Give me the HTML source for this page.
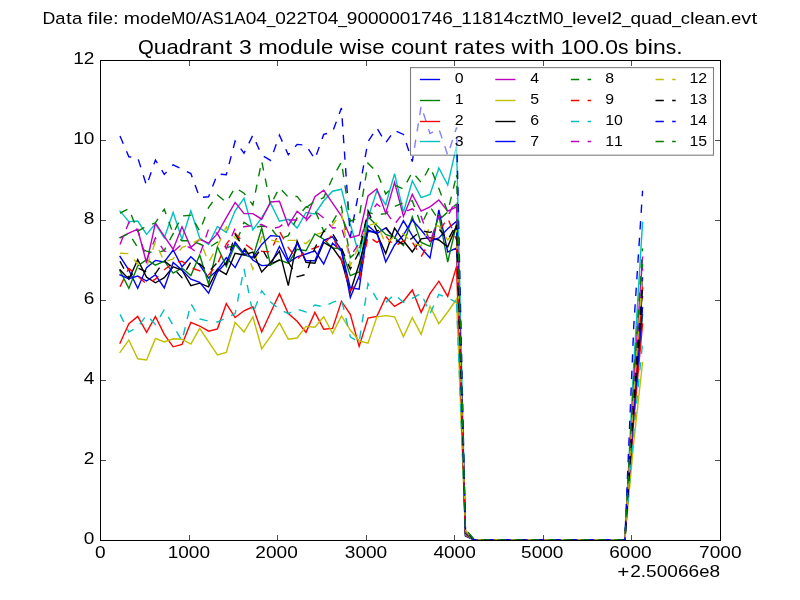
<!DOCTYPE html>
<html><head><meta charset="utf-8"><title>Quadrant 3 module wise count rates</title>
<style>
html,body{margin:0;padding:0;background:#fff;}
body{width:800px;height:600px;overflow:hidden;font-family:"Liberation Sans",sans-serif;}
svg{display:block;font-family:"Liberation Sans",sans-serif;}
svg text{fill:#000;}
</style></head><body>
<svg width="800" height="600" viewBox="0 0 800 600">
<rect width="800" height="600" fill="#ffffff"/>
<defs><filter id="gs" x="0" y="0" width="800" height="600" filterUnits="userSpaceOnUse" color-interpolation-filters="sRGB"><feColorMatrix type="saturate" values="0"/></filter><clipPath id="ax"><rect x="100" y="60" width="620" height="480.9"/></clipPath></defs>
<g clip-path="url(#ax)" fill="none" stroke-width="1.39" stroke-linejoin="miter" stroke-miterlimit="4">
<path d="M120.00,256.40 L128.86,270.00 L137.71,288.40 L146.57,267.60 L155.43,260.40 L164.29,262.00 L173.14,250.00 L182.00,266.80 L190.86,256.80 L199.71,265.00 L208.57,278.00 L217.43,270.00 L226.29,257.60 L235.14,267.60 L244.00,250.00 L252.86,260.00 L261.71,265.60 L270.57,265.00 L279.43,246.40 L288.29,262.40 L297.14,256.80 L306.00,254.00 L314.86,250.80 L323.71,264.00 L332.57,243.20 L341.43,251.20 L350.29,287.60 L359.14,289.20 L368.00,225.60 L376.86,233.60 L385.71,228.00 L394.57,238.00 L403.43,220.80 L412.29,235.60 L421.14,248.00 L430.00,258.00 L438.86,210.00 L447.71,252.00 L456.57,248.00 L465.43,536.00 L474.29,540.00 L483.14,540.00 L492.00,540.00 L500.86,540.00 L509.71,540.00 L518.57,540.00 L527.43,540.00 L536.29,540.00 L545.14,540.00 L554.00,540.00 L562.86,540.00 L571.71,540.00 L580.57,540.00 L589.43,540.00 L598.29,540.00 L607.14,540.00 L616.00,540.00 L624.86,540.00 L633.71,395.90 L642.57,278.00" stroke="#0000ff" stroke-linecap="square"/>
<path d="M120.00,270.80 L128.86,288.40 L137.71,266.00 L146.57,259.60 L155.43,265.20 L164.29,261.20 L173.14,273.20 L182.00,268.00 L190.86,275.60 L199.71,255.00 L208.57,284.00 L217.43,246.80 L226.29,266.40 L235.14,244.40 L244.00,255.00 L252.86,257.60 L261.71,228.00 L270.57,265.00 L279.43,260.00 L288.29,263.20 L297.14,249.20 L306.00,250.80 L314.86,234.00 L323.71,239.20 L332.57,248.00 L341.43,248.80 L350.29,275.60 L359.14,272.00 L368.00,216.80 L376.86,225.60 L385.71,234.40 L394.57,237.60 L403.43,245.60 L412.29,216.80 L421.14,242.40 L430.00,246.40 L438.86,215.00 L447.71,262.00 L456.57,224.00 L465.43,535.52 L474.29,540.00 L483.14,540.00 L492.00,540.00 L500.86,540.00 L509.71,540.00 L518.57,540.00 L527.43,540.00 L536.29,540.00 L545.14,540.00 L554.00,540.00 L562.86,540.00 L571.71,540.00 L580.57,540.00 L589.43,540.00 L598.29,540.00 L607.14,540.00 L616.00,540.00 L624.86,540.00 L633.71,415.92 L642.57,314.40" stroke="#008000" stroke-linecap="square"/>
<path d="M120.00,343.20 L128.86,323.60 L137.71,316.40 L146.57,332.40 L155.43,316.40 L164.29,334.40 L173.14,346.80 L182.00,344.40 L190.86,322.40 L199.71,326.00 L208.57,331.20 L217.43,328.80 L226.29,303.60 L235.14,317.60 L244.00,310.80 L252.86,306.80 L261.71,332.00 L270.57,312.80 L279.43,293.60 L288.29,313.60 L297.14,321.20 L306.00,332.40 L314.86,312.40 L323.71,329.20 L332.57,328.40 L341.43,301.20 L350.29,314.40 L359.14,346.40 L368.00,318.00 L376.86,316.40 L385.71,297.20 L394.57,306.40 L403.43,301.20 L412.29,290.00 L421.14,312.40 L430.00,293.60 L438.86,281.20 L447.71,296.40 L456.57,266.40 L465.43,535.04 L474.29,540.00 L483.14,540.00 L492.00,540.00 L500.86,540.00 L509.71,540.00 L518.57,540.00 L527.43,540.00 L536.29,540.00 L545.14,540.00 L554.00,540.00 L562.86,540.00 L571.71,540.00 L580.57,540.00 L589.43,540.00 L598.29,540.00 L607.14,540.00 L616.00,540.00 L624.86,540.00 L633.71,421.20 L642.57,324.00" stroke="#ff0000" stroke-linecap="square"/>
<path d="M120.00,211.20 L128.86,221.60 L137.71,221.00 L146.57,234.40 L155.43,223.76 L164.29,238.00 L173.14,212.40 L182.00,239.20 L190.86,210.80 L199.71,238.00 L208.57,244.40 L217.43,226.40 L226.29,232.40 L235.14,210.80 L244.00,198.40 L252.86,230.00 L261.71,217.60 L270.57,203.20 L279.43,221.20 L288.29,219.20 L297.14,228.00 L306.00,212.40 L314.86,214.00 L323.71,200.80 L332.57,191.20 L341.43,189.20 L350.29,224.00 L359.14,255.00 L368.00,218.00 L376.86,190.80 L385.71,204.80 L394.57,173.60 L403.43,212.40 L412.29,180.80 L421.14,197.60 L430.00,194.40 L438.86,168.00 L447.71,185.00 L456.57,145.60 L465.43,534.56 L474.29,540.00 L483.14,540.00 L492.00,540.00 L500.86,540.00 L509.71,540.00 L518.57,540.00 L527.43,540.00 L536.29,540.00 L545.14,540.00 L554.00,540.00 L562.86,540.00 L571.71,540.00 L580.57,540.00 L589.43,540.00 L598.29,540.00 L607.14,540.00 L616.00,540.00 L624.86,540.00 L633.71,365.32 L642.57,222.40" stroke="#00bfbf" stroke-linecap="square"/>
<path d="M120.00,237.60 L128.86,233.20 L137.71,229.20 L146.57,263.20 L155.43,223.20 L164.29,236.40 L173.14,249.20 L182.00,226.80 L190.86,247.60 L199.71,239.36 L208.57,243.20 L217.43,233.60 L226.29,217.60 L235.14,202.40 L244.00,213.60 L252.86,213.60 L261.71,219.20 L270.57,202.00 L279.43,201.20 L288.29,225.60 L297.14,211.20 L306.00,218.80 L314.86,196.80 L323.71,190.20 L332.57,203.20 L341.43,216.00 L350.29,237.60 L359.14,235.20 L368.00,196.00 L376.86,188.80 L385.71,213.20 L394.57,182.40 L403.43,216.40 L412.29,194.40 L421.14,211.20 L430.00,206.80 L438.86,200.00 L447.71,211.20 L456.57,206.80 L465.43,534.08 L474.29,540.00 L483.14,540.00 L492.00,540.00 L500.86,540.00 L509.71,540.00 L518.57,540.00 L527.43,540.00 L536.29,540.00 L545.14,540.00 L554.00,540.00 L562.86,540.00 L571.71,540.00 L580.57,540.00 L589.43,540.00 L598.29,540.00 L607.14,540.00 L616.00,540.00 L624.86,540.00 L633.71,384.46 L642.57,257.20" stroke="#bf00bf" stroke-linecap="square"/>
<path d="M120.00,352.40 L128.86,340.00 L137.71,358.80 L146.57,360.00 L155.43,338.40 L164.29,342.00 L173.14,338.80 L182.00,339.20 L190.86,344.00 L199.71,328.40 L208.57,341.60 L217.43,355.00 L226.29,352.40 L235.14,322.40 L244.00,332.00 L252.86,316.80 L261.71,348.80 L270.57,336.40 L279.43,322.80 L288.29,339.20 L297.14,338.00 L306.00,326.40 L314.86,327.20 L323.71,316.80 L332.57,333.60 L341.43,316.00 L350.29,330.00 L359.14,340.80 L368.00,343.20 L376.86,316.80 L385.71,315.60 L394.57,316.80 L403.43,336.80 L412.29,317.60 L421.14,334.40 L430.00,306.40 L438.86,323.60 L447.71,312.00 L456.57,299.00 L465.43,533.60 L474.29,540.00 L483.14,540.00 L492.00,540.00 L500.86,540.00 L509.71,540.00 L518.57,540.00 L527.43,540.00 L536.29,540.00 L545.14,540.00 L554.00,540.00 L562.86,540.00 L571.71,540.00 L580.57,540.00 L589.43,540.00 L598.29,540.00 L607.14,540.00 L616.00,540.00 L624.86,540.00 L633.71,442.32 L642.57,362.40" stroke="#bfbf00" stroke-linecap="square"/>
<path d="M120.00,269.76 L128.86,279.20 L137.71,259.60 L146.57,277.20 L155.43,282.80 L164.29,277.60 L173.14,266.80 L182.00,270.00 L190.86,285.60 L199.71,283.20 L208.57,286.80 L217.43,269.20 L226.29,274.40 L235.14,253.20 L244.00,255.00 L252.86,252.00 L261.71,272.00 L270.57,262.40 L279.43,251.20 L288.29,285.60 L297.14,240.80 L306.00,262.40 L314.86,263.20 L323.71,242.40 L332.57,247.60 L341.43,260.00 L350.29,292.00 L359.14,264.00 L368.00,230.00 L376.86,233.60 L385.71,253.60 L394.57,228.00 L403.43,240.80 L412.29,252.00 L421.14,238.80 L430.00,237.60 L438.86,240.00 L447.71,246.80 L456.57,225.60 L465.43,533.12 L474.29,540.00 L483.14,540.00 L492.00,540.00 L500.86,540.00 L509.71,540.00 L518.57,540.00 L527.43,540.00 L536.29,540.00 L545.14,540.00 L554.00,540.00 L562.86,540.00 L571.71,540.00 L580.57,540.00 L589.43,540.00 L598.29,540.00 L607.14,540.00 L616.00,540.00 L624.86,540.00 L633.71,401.84 L642.57,288.80" stroke="#000000" stroke-linecap="square"/>
<path d="M120.00,274.80 L128.86,278.80 L137.71,276.00 L146.57,281.00 L155.43,274.80 L164.29,288.00 L173.14,262.40 L182.00,270.00 L190.86,279.20 L199.71,282.40 L208.57,293.20 L217.43,272.00 L226.29,262.40 L235.14,242.00 L244.00,253.60 L252.86,257.60 L261.71,244.40 L270.57,235.60 L279.43,236.40 L288.29,260.00 L297.14,243.20 L306.00,260.80 L314.86,260.80 L323.71,240.40 L332.57,236.80 L341.43,250.00 L350.29,297.60 L359.14,276.00 L368.00,231.20 L376.86,232.40 L385.71,262.00 L394.57,245.00 L403.43,235.00 L412.29,220.00 L421.14,230.00 L430.00,241.20 L438.86,238.00 L447.71,228.80 L456.57,221.20 L465.43,532.64 L474.29,540.00 L483.14,540.00 L492.00,540.00 L500.86,540.00 L509.71,540.00 L518.57,540.00 L527.43,540.00 L536.29,540.00 L545.14,540.00 L554.00,540.00 L562.86,540.00 L571.71,540.00 L580.57,540.00 L589.43,540.00 L598.29,540.00 L607.14,540.00 L616.00,540.00 L624.86,540.00 L633.71,412.40 L642.57,308.00" stroke="#0000ff" stroke-linecap="square"/>
<path d="M120.00,238.00 L128.86,233.20 L137.71,247.60 L146.57,251.20 L155.43,253.60 L164.29,250.40 L173.14,233.60 L182.00,240.80 L190.86,240.80 L199.71,244.00 L208.57,248.00 L217.43,242.00 L226.29,247.60 L235.14,245.60 L244.00,222.40 L252.86,228.00 L261.71,226.00 L270.57,227.60 L279.43,239.20 L288.29,235.60 L297.14,217.60 L306.00,206.80 L314.86,210.00 L323.71,231.20 L332.57,222.00 L341.43,206.80 L350.29,257.60 L359.14,250.00 L368.00,212.40 L376.86,214.80 L385.71,213.60 L394.57,206.40 L403.43,202.80 L412.29,200.80 L421.14,225.00 L430.00,206.80 L438.86,220.00 L447.71,212.00 L456.57,204.00" stroke="#008000" stroke-dasharray="8.33 8.33"/>
<path d="M456.57,204.00 L465.43,532.16" stroke="#008000" stroke-dasharray="8.33 8.33" stroke-dashoffset="1.47"/>
<path d="M465.43,532.16 L474.29,540.00 L483.14,540.00 L492.00,540.00 L500.86,540.00 L509.71,540.00 L518.57,540.00 L527.43,540.00 L536.29,540.00 L545.14,540.00 L554.00,540.00 L562.86,540.00 L571.71,540.00 L580.57,540.00 L589.43,540.00 L598.29,540.00 L607.14,540.00 L616.00,540.00 L624.86,540.00 L633.71,388.20 L642.57,264.00" stroke="#008000" stroke-dasharray="8.33 8.33" stroke-dashoffset="0.00"/>
<path d="M120.00,286.80 L128.86,268.40 L137.71,276.00 L146.57,284.00 L155.43,279.20 L164.29,269.76 L173.14,263.20 L182.00,261.20 L190.86,267.60 L199.71,270.80 L208.57,275.00 L217.43,264.00 L226.29,244.00 L235.14,233.20 L244.00,243.20 L252.86,250.00 L261.71,251.20 L270.57,252.00 L279.43,231.20 L288.29,247.60 L297.14,259.20 L306.00,250.80 L314.86,248.00 L323.71,244.40 L332.57,234.40 L341.43,260.00 L350.29,290.80 L359.14,281.20 L368.00,236.40 L376.86,242.40 L385.71,236.00 L394.57,246.40 L403.43,240.80 L412.29,242.00 L421.14,256.80 L430.00,240.80 L438.86,232.00 L447.71,218.00 L456.57,240.00" stroke="#ff0000" stroke-dasharray="8.33 8.33"/>
<path d="M456.57,240.00 L465.43,531.68" stroke="#ff0000" stroke-dasharray="8.33 8.33" stroke-dashoffset="12.27"/>
<path d="M465.43,531.68 L474.29,540.00 L483.14,540.00 L492.00,540.00 L500.86,540.00 L509.71,540.00 L518.57,540.00 L527.43,540.00 L536.29,540.00 L545.14,540.00 L554.00,540.00 L562.86,540.00 L571.71,540.00 L580.57,540.00 L589.43,540.00 L598.29,540.00 L607.14,540.00 L616.00,540.00 L624.86,540.00 L633.71,400.52 L642.57,286.40" stroke="#ff0000" stroke-dasharray="8.33 8.33" stroke-dashoffset="2.99"/>
<path d="M120.00,314.40 L128.86,332.00 L137.71,327.20 L146.57,315.00 L155.43,324.40 L164.29,309.60 L173.14,325.60 L182.00,340.80 L190.86,303.60 L199.71,318.80 L208.57,321.20 L217.43,322.00 L226.29,318.00 L235.14,313.60 L244.00,268.80 L252.86,313.20 L261.71,290.80 L270.57,302.00 L279.43,309.20 L288.29,313.60 L297.14,309.20 L306.00,312.00 L314.86,305.00 L323.71,306.80 L332.57,302.40 L341.43,299.20 L350.29,336.80 L359.14,342.40 L368.00,283.60 L376.86,299.20 L385.71,302.40 L394.57,294.40 L403.43,302.40 L412.29,298.40 L421.14,293.20 L430.00,313.60 L438.86,294.40 L447.71,298.00 L456.57,302.40" stroke="#00bfbf" stroke-dasharray="8.33 8.33"/>
<path d="M456.57,302.40 L465.43,531.20" stroke="#00bfbf" stroke-dasharray="8.33 8.33" stroke-dashoffset="14.97"/>
<path d="M465.43,531.20 L474.29,540.00 L483.14,540.00 L492.00,540.00 L500.86,540.00 L509.71,540.00 L518.57,540.00 L527.43,540.00 L536.29,540.00 L545.14,540.00 L554.00,540.00 L562.86,540.00 L571.71,540.00 L580.57,540.00 L589.43,540.00 L598.29,540.00 L607.14,540.00 L616.00,540.00 L624.86,540.00 L633.71,431.54 L642.57,342.80" stroke="#00bfbf" stroke-dasharray="8.33 8.33" stroke-dashoffset="0.00"/>
<path d="M120.00,244.40 L128.86,222.40 L137.71,230.00 L146.57,260.00 L155.43,238.00 L164.29,251.20 L173.14,252.00 L182.00,244.00 L190.86,248.00 L199.71,255.00 L208.57,229.20 L217.43,233.60 L226.29,248.80 L235.14,228.40 L244.00,226.80 L252.86,225.60 L261.71,224.40 L270.57,229.20 L279.43,226.80 L288.29,220.00 L297.14,220.00 L306.00,220.80 L314.86,210.80 L323.71,218.00 L332.57,228.00 L341.43,227.20 L350.29,256.40 L359.14,243.20 L368.00,216.00 L376.86,204.00 L385.71,211.20 L394.57,224.40 L403.43,212.40 L412.29,208.80 L421.14,216.40 L430.00,242.00 L438.86,216.40 L447.71,216.40 L456.57,198.80" stroke="#bf00bf" stroke-dasharray="8.33 8.33"/>
<path d="M456.57,198.80 L465.43,530.72" stroke="#bf00bf" stroke-dasharray="8.33 8.33" stroke-dashoffset="11.37"/>
<path d="M465.43,530.72 L474.29,540.00 L483.14,540.00 L492.00,540.00 L500.86,540.00 L509.71,540.00 L518.57,540.00 L527.43,540.00 L536.29,540.00 L545.14,540.00 L554.00,540.00 L562.86,540.00 L571.71,540.00 L580.57,540.00 L589.43,540.00 L598.29,540.00 L607.14,540.00 L616.00,540.00 L624.86,540.00 L633.71,390.40 L642.57,268.00" stroke="#bf00bf" stroke-dasharray="8.33 8.33" stroke-dashoffset="0.00"/>
<path d="M120.00,253.20 L128.86,253.60 L137.71,264.00 L146.57,266.80 L155.43,242.00 L164.29,262.00 L173.14,258.80 L182.00,247.60 L190.86,244.00 L199.71,239.20 L208.57,262.40 L217.43,246.40 L226.29,226.80 L235.14,238.00 L244.00,244.40 L252.86,269.20 L261.71,236.80 L270.57,240.00 L279.43,242.00 L288.29,240.40 L297.14,240.40 L306.00,243.60 L314.86,235.00 L323.71,232.00 L332.57,225.00 L341.43,212.40 L350.29,265.60 L359.14,245.00 L368.00,225.60 L376.86,223.20 L385.71,244.00 L394.57,236.40 L403.43,233.60 L412.29,243.20 L421.14,245.60 L430.00,226.40 L438.86,226.00 L447.71,240.00 L456.57,230.00" stroke="#bfbf00" stroke-dasharray="8.33 8.33"/>
<path d="M456.57,230.00 L465.43,530.24" stroke="#bfbf00" stroke-dasharray="8.33 8.33" stroke-dashoffset="5.77"/>
<path d="M465.43,530.24 L474.29,540.00 L483.14,540.00 L492.00,540.00 L500.86,540.00 L509.71,540.00 L518.57,540.00 L527.43,540.00 L536.29,540.00 L545.14,540.00 L554.00,540.00 L562.86,540.00 L571.71,540.00 L580.57,540.00 L589.43,540.00 L598.29,540.00 L607.14,540.00 L616.00,540.00 L624.86,540.00 L633.71,393.70 L642.57,274.00" stroke="#bfbf00" stroke-dasharray="8.33 8.33" stroke-dashoffset="1.93"/>
<path d="M120.00,261.20 L128.86,278.00 L137.71,268.00 L146.57,272.00 L155.43,273.60 L164.29,260.80 L173.14,268.00 L182.00,277.60 L190.86,262.00 L199.71,264.00 L208.57,272.00 L217.43,262.40 L226.29,264.40 L235.14,234.40 L244.00,248.00 L252.86,260.00 L261.71,248.00 L270.57,264.00 L279.43,260.00 L288.29,262.00 L297.14,276.80 L306.00,274.40 L314.86,248.00 L323.71,231.20 L332.57,233.60 L341.43,248.00 L350.29,269.20 L359.14,252.00 L368.00,210.80 L376.86,231.20 L385.71,226.80 L394.57,240.00 L403.43,244.00 L412.29,238.00 L421.14,230.80 L430.00,232.40 L438.86,228.80 L447.71,240.00 L456.57,224.40" stroke="#000000" stroke-dasharray="8.33 8.33"/>
<path d="M456.57,224.40 L465.43,529.76" stroke="#000000" stroke-dasharray="8.33 8.33" stroke-dashoffset="3.67"/>
<path d="M465.43,529.76 L474.29,540.00 L483.14,540.00 L492.00,540.00 L500.86,540.00 L509.71,540.00 L518.57,540.00 L527.43,540.00 L536.29,540.00 L545.14,540.00 L554.00,540.00 L562.86,540.00 L571.71,540.00 L580.57,540.00 L589.43,540.00 L598.29,540.00 L607.14,540.00 L616.00,540.00 L624.86,540.00 L633.71,405.80 L642.57,296.00" stroke="#000000" stroke-dasharray="8.33 8.33" stroke-dashoffset="10.10"/>
<path d="M120.00,136.00 L128.86,156.80 L137.71,157.60 L146.57,185.60 L155.43,160.00 L164.29,174.40 L173.14,164.80 L182.00,169.20 L190.86,173.60 L199.71,197.60 L208.57,196.80 L217.43,174.00 L226.29,174.80 L235.14,141.00 L244.00,153.20 L252.86,135.20 L261.71,155.20 L270.57,160.40 L279.43,135.20 L288.29,154.80 L297.14,144.40 L306.00,145.20 L314.86,159.20 L323.71,134.40 L332.57,132.00 L341.43,108.00 L350.29,236.80 L359.14,190.00 L368.00,141.60 L376.86,128.00 L385.71,142.80 L394.57,130.40 L403.43,134.40 L412.29,161.60 L421.14,106.00 L430.00,133.60 L438.86,128.80 L447.71,155.00 L456.57,127.60" stroke="#0000ff" stroke-dasharray="8.33 8.33"/>
<path d="M456.57,127.60 L465.43,529.28" stroke="#0000ff" stroke-dasharray="8.33 8.33" stroke-dashoffset="6.90"/>
<path d="M465.43,529.28 L474.29,540.00 L483.14,540.00 L492.00,540.00 L500.86,540.00 L509.71,540.00 L518.57,540.00 L527.43,540.00 L536.29,540.00 L545.14,540.00 L554.00,540.00 L562.86,540.00 L571.71,540.00 L580.57,540.00 L589.43,540.00 L598.29,540.00 L607.14,540.00 L616.00,540.00 L624.86,540.00 L633.71,326.99 L642.57,190.80" stroke="#0000ff" stroke-dasharray="8.33 8.33" stroke-dashoffset="7.73"/>
<path d="M120.00,213.20 L128.86,208.80 L137.71,231.20 L146.57,226.00 L155.43,222.80 L164.29,209.20 L173.14,233.60 L182.00,216.00 L190.86,215.20 L199.71,231.20 L208.57,207.60 L217.43,195.00 L226.29,202.40 L235.14,187.60 L244.00,193.20 L252.86,205.00 L261.71,161.20 L270.57,205.00 L279.43,187.60 L288.29,197.20 L297.14,196.40 L306.00,207.60 L314.86,201.20 L323.71,197.60 L332.57,178.00 L341.43,162.00 L350.29,221.20 L359.14,217.60 L368.00,163.20 L376.86,172.00 L385.71,194.00 L394.57,185.20 L403.43,189.00 L412.29,172.00 L421.14,182.40 L430.00,166.40 L438.86,188.40 L447.71,212.00 L456.57,175.00" stroke="#008000" stroke-dasharray="8.33 8.33"/>
<path d="M456.57,175.00 L465.43,528.80" stroke="#008000" stroke-dasharray="8.33 8.33" stroke-dashoffset="5.80"/>
<path d="M465.43,528.80 L474.29,540.00 L483.14,540.00 L492.00,540.00 L500.86,540.00 L509.71,540.00 L518.57,540.00 L527.43,540.00 L536.29,540.00 L545.14,540.00 L554.00,540.00 L562.86,540.00 L571.71,540.00 L580.57,540.00 L589.43,540.00 L598.29,540.00 L607.14,540.00 L616.00,540.00 L624.86,540.00 L633.71,379.62 L642.57,248.40" stroke="#008000" stroke-dasharray="8.33 8.33" stroke-dashoffset="12.34"/>
</g>
<g fill="none" stroke="#000" stroke-width="1.1" shape-rendering="crispEdges">
<path d="M100.5 60.5H720.5V540.5H100.5Z"/>
</g>
<g fill="none" stroke="#000" stroke-width="0.7">
<path d="M100.5 540.5v-5.5M100.5 60.5v5.5"/>
<path d="M189.5 540.5v-5.5M189.5 60.5v5.5"/>
<path d="M277.5 540.5v-5.5M277.5 60.5v5.5"/>
<path d="M366.5 540.5v-5.5M366.5 60.5v5.5"/>
<path d="M454.5 540.5v-5.5M454.5 60.5v5.5"/>
<path d="M543.5 540.5v-5.5M543.5 60.5v5.5"/>
<path d="M631.5 540.5v-5.5M631.5 60.5v5.5"/>
<path d="M720.5 540.5v-5.5M720.5 60.5v5.5"/>
<path d="M100.5 540.5h5.5M720.5 540.5h-5.5"/>
<path d="M100.5 460.5h5.5M720.5 460.5h-5.5"/>
<path d="M100.5 380.5h5.5M720.5 380.5h-5.5"/>
<path d="M100.5 300.5h5.5M720.5 300.5h-5.5"/>
<path d="M100.5 220.5h5.5M720.5 220.5h-5.5"/>
<path d="M100.5 140.5h5.5M720.5 140.5h-5.5"/>
<path d="M100.5 60.5h5.5M720.5 60.5h-5.5"/>
</g>
<g>
<rect x="410.5" y="67.6" width="303.0" height="87.6" fill="#fff" fill-opacity="0.5" stroke="#000" stroke-opacity="0.5" stroke-width="1.1"/>
<path d="M419.90 79.50H440.10" stroke="#0000ff" stroke-width="1.39" fill="none"/>
<path d="M419.90 100.50H440.10" stroke="#008000" stroke-width="1.39" fill="none"/>
<path d="M419.90 121.50H440.10" stroke="#ff0000" stroke-width="1.39" fill="none"/>
<path d="M419.90 141.50H440.10" stroke="#00bfbf" stroke-width="1.39" fill="none"/>
<path d="M495.30 79.50H515.50" stroke="#bf00bf" stroke-width="1.39" fill="none"/>
<path d="M495.30 100.50H515.50" stroke="#bfbf00" stroke-width="1.39" fill="none"/>
<path d="M495.30 121.50H515.50" stroke="#000000" stroke-width="1.39" fill="none"/>
<path d="M495.30 141.50H515.50" stroke="#0000ff" stroke-width="1.39" fill="none"/>
<path d="M570.90 79.50H591.10" stroke="#008000" stroke-width="1.39" fill="none" stroke-dasharray="8.33 8.33"/>
<path d="M570.90 100.50H591.10" stroke="#ff0000" stroke-width="1.39" fill="none" stroke-dasharray="8.33 8.33"/>
<path d="M570.90 121.50H591.10" stroke="#00bfbf" stroke-width="1.39" fill="none" stroke-dasharray="8.33 8.33"/>
<path d="M570.90 141.50H591.10" stroke="#bf00bf" stroke-width="1.39" fill="none" stroke-dasharray="8.33 8.33"/>
<path d="M655.50 79.50H675.70" stroke="#bfbf00" stroke-width="1.39" fill="none" stroke-dasharray="8.33 8.33"/>
<path d="M655.50 100.50H675.70" stroke="#000000" stroke-width="1.39" fill="none" stroke-dasharray="8.33 8.33"/>
<path d="M655.50 121.50H675.70" stroke="#0000ff" stroke-width="1.39" fill="none" stroke-dasharray="8.33 8.33"/>
<path d="M655.50 141.50H675.70" stroke="#008000" stroke-width="1.39" fill="none" stroke-dasharray="8.33 8.33"/>
</g>
<g filter="url(#gs)">
<text transform="translate(42.45 24.30) scale(1.045 1)" font-size="17.00">D</text>
<text transform="translate(55.29 24.30) scale(1.080 1)" font-size="17.00">a</text>
<text transform="translate(65.89 24.30) scale(1.220 1)" font-size="17.00">t</text>
<text transform="translate(72.04 24.30) scale(1.080 1)" font-size="17.00">a</text>
<text transform="translate(87.60 24.30) scale(1.220 1)" font-size="17.00">f</text>
<text transform="translate(93.43 24.30) scale(1.220 1)" font-size="17.00">i</text>
<text transform="translate(98.06 24.30) scale(1.220 1)" font-size="17.00">l</text>
<text transform="translate(102.68 24.30) scale(1.085 1)" font-size="17.00">e</text>
<text transform="translate(112.93 24.30) scale(1.189 1)" font-size="17.00">:</text>
<text transform="translate(123.84 24.30) scale(1.146 1)" font-size="17.00">m</text>
<text transform="translate(140.08 24.30) scale(1.079 1)" font-size="17.00">o</text>
<text transform="translate(150.28 24.30) scale(1.119 1)" font-size="17.00">d</text>
<text transform="translate(160.86 24.30) scale(1.085 1)" font-size="17.00">e</text>
<text transform="translate(171.11 24.30) scale(1.015 1)" font-size="17.00">M</text>
<text transform="translate(185.49 24.30) scale(1.122 1)" font-size="17.00">0</text>
<text transform="translate(196.09 24.30) scale(1.189 1)" font-size="17.00">/</text>
<text transform="translate(201.71 24.30) scale(1.006 1)" font-size="17.00">A</text>
<text transform="translate(213.11 24.30) scale(0.933 1)" font-size="17.00">S</text>
<text transform="translate(223.69 24.30) scale(1.122 1)" font-size="17.00">1</text>
<text transform="translate(234.29 24.30) scale(1.006 1)" font-size="17.00">A</text>
<text transform="translate(245.70 24.30) scale(1.122 1)" font-size="17.00">0</text>
<text transform="translate(256.30 24.30) scale(1.122 1)" font-size="17.00">4</text>
<text transform="translate(266.72 24.30) scale(0.920 1)" font-size="17.00">_</text>
<text transform="translate(275.24 24.30) scale(1.122 1)" font-size="17.00">0</text>
<text transform="translate(285.84 24.30) scale(1.122 1)" font-size="17.00">2</text>
<text transform="translate(296.45 24.30) scale(1.122 1)" font-size="17.00">2</text>
<text transform="translate(307.05 24.30) scale(0.980 1)" font-size="17.00">T</text>
<text transform="translate(317.23 24.30) scale(1.122 1)" font-size="17.00">0</text>
<text transform="translate(327.83 24.30) scale(1.122 1)" font-size="17.00">4</text>
<text transform="translate(338.26 24.30) scale(0.920 1)" font-size="17.00">_</text>
<text transform="translate(346.77 24.30) scale(1.122 1)" font-size="17.00">9</text>
<text transform="translate(357.38 24.30) scale(1.122 1)" font-size="17.00">0</text>
<text transform="translate(367.98 24.30) scale(1.122 1)" font-size="17.00">0</text>
<text transform="translate(378.58 24.30) scale(1.122 1)" font-size="17.00">0</text>
<text transform="translate(389.19 24.30) scale(1.122 1)" font-size="17.00">0</text>
<text transform="translate(399.79 24.30) scale(1.122 1)" font-size="17.00">0</text>
<text transform="translate(410.40 24.30) scale(1.122 1)" font-size="17.00">1</text>
<text transform="translate(421.00 24.30) scale(1.122 1)" font-size="17.00">7</text>
<text transform="translate(431.60 24.30) scale(1.122 1)" font-size="17.00">4</text>
<text transform="translate(442.21 24.30) scale(1.122 1)" font-size="17.00">6</text>
<text transform="translate(452.63 24.30) scale(0.920 1)" font-size="17.00">_</text>
<text transform="translate(461.15 24.30) scale(1.122 1)" font-size="17.00">1</text>
<text transform="translate(471.75 24.30) scale(1.122 1)" font-size="17.00">1</text>
<text transform="translate(482.35 24.30) scale(1.122 1)" font-size="17.00">8</text>
<text transform="translate(492.96 24.30) scale(1.122 1)" font-size="17.00">1</text>
<text transform="translate(503.56 24.30) scale(1.122 1)" font-size="17.00">4</text>
<text transform="translate(514.17 24.30) scale(1.078 1)" font-size="17.00">c</text>
<text transform="translate(523.33 24.30) scale(1.029 1)" font-size="17.00">z</text>
<text transform="translate(532.47 24.30) scale(1.220 1)" font-size="17.00">t</text>
<text transform="translate(538.61 24.30) scale(1.015 1)" font-size="17.00">M</text>
<text transform="translate(552.99 24.30) scale(1.122 1)" font-size="17.00">0</text>
<text transform="translate(563.42 24.30) scale(0.920 1)" font-size="17.00">_</text>
<text transform="translate(571.94 24.30) scale(1.220 1)" font-size="17.00">l</text>
<text transform="translate(576.56 24.30) scale(1.085 1)" font-size="17.00">e</text>
<text transform="translate(586.82 24.30) scale(1.160 1)" font-size="17.00">v</text>
<text transform="translate(596.68 24.30) scale(1.085 1)" font-size="17.00">e</text>
<text transform="translate(606.95 24.30) scale(1.220 1)" font-size="17.00">l</text>
<text transform="translate(611.56 24.30) scale(1.122 1)" font-size="17.00">2</text>
<text transform="translate(621.99 24.30) scale(0.920 1)" font-size="17.00">_</text>
<text transform="translate(630.50 24.30) scale(1.119 1)" font-size="17.00">q</text>
<text transform="translate(641.08 24.30) scale(1.117 1)" font-size="17.00">u</text>
<text transform="translate(651.64 24.30) scale(1.080 1)" font-size="17.00">a</text>
<text transform="translate(661.86 24.30) scale(1.119 1)" font-size="17.00">d</text>
<text transform="translate(672.26 24.30) scale(0.920 1)" font-size="17.00">_</text>
<text transform="translate(680.77 24.30) scale(1.078 1)" font-size="17.00">c</text>
<text transform="translate(689.95 24.30) scale(1.220 1)" font-size="17.00">l</text>
<text transform="translate(694.57 24.30) scale(1.085 1)" font-size="17.00">e</text>
<text transform="translate(704.82 24.30) scale(1.080 1)" font-size="17.00">a</text>
<text transform="translate(715.03 24.30) scale(1.117 1)" font-size="17.00">n</text>
<text transform="translate(725.60 24.30) scale(1.122 1)" font-size="17.00">.</text>
<text transform="translate(730.89 24.30) scale(1.085 1)" font-size="17.00">e</text>
<text transform="translate(741.15 24.30) scale(1.160 1)" font-size="17.00">v</text>
<text transform="translate(751.40 24.30) scale(1.220 1)" font-size="17.00">t</text>
<text transform="translate(137.94 53.80) scale(0.996 1)" font-size="20.40">Q</text>
<text transform="translate(153.74 53.80) scale(1.121 1)" font-size="20.40">u</text>
<text transform="translate(166.46 53.80) scale(1.084 1)" font-size="20.40">a</text>
<text transform="translate(178.76 53.80) scale(1.123 1)" font-size="20.40">d</text>
<text transform="translate(191.49 53.80) scale(1.215 1)" font-size="20.40">r</text>
<text transform="translate(199.75 53.80) scale(1.084 1)" font-size="20.40">a</text>
<text transform="translate(212.05 53.80) scale(1.121 1)" font-size="20.40">n</text>
<text transform="translate(225.24 53.80) scale(1.220 1)" font-size="20.40">t</text>
<text transform="translate(239.01 53.80) scale(1.125 1)" font-size="20.40">3</text>
<text transform="translate(258.16 53.80) scale(1.150 1)" font-size="20.40">m</text>
<text transform="translate(277.71 53.80) scale(1.082 1)" font-size="20.40">o</text>
<text transform="translate(289.99 53.80) scale(1.123 1)" font-size="20.40">d</text>
<text transform="translate(302.73 53.80) scale(1.121 1)" font-size="20.40">u</text>
<text transform="translate(315.48 53.80) scale(1.220 1)" font-size="20.40">l</text>
<text transform="translate(321.03 53.80) scale(1.088 1)" font-size="20.40">e</text>
<text transform="translate(339.76 53.80) scale(1.114 1)" font-size="20.40">w</text>
<text transform="translate(356.19 53.80) scale(1.220 1)" font-size="20.40">i</text>
<text transform="translate(361.75 53.80) scale(1.025 1)" font-size="20.40">s</text>
<text transform="translate(372.20 53.80) scale(1.088 1)" font-size="20.40">e</text>
<text transform="translate(390.93 53.80) scale(1.082 1)" font-size="20.40">c</text>
<text transform="translate(401.97 53.80) scale(1.082 1)" font-size="20.40">o</text>
<text transform="translate(414.24 53.80) scale(1.121 1)" font-size="20.40">u</text>
<text transform="translate(426.96 53.80) scale(1.121 1)" font-size="20.40">n</text>
<text transform="translate(440.16 53.80) scale(1.220 1)" font-size="20.40">t</text>
<text transform="translate(453.93 53.80) scale(1.215 1)" font-size="20.40">r</text>
<text transform="translate(462.19 53.80) scale(1.084 1)" font-size="20.40">a</text>
<text transform="translate(474.96 53.80) scale(1.220 1)" font-size="20.40">t</text>
<text transform="translate(482.35 53.80) scale(1.088 1)" font-size="20.40">e</text>
<text transform="translate(494.70 53.80) scale(1.025 1)" font-size="20.40">s</text>
<text transform="translate(511.54 53.80) scale(1.114 1)" font-size="20.40">w</text>
<text transform="translate(527.97 53.80) scale(1.220 1)" font-size="20.40">i</text>
<text transform="translate(534.00 53.80) scale(1.220 1)" font-size="20.40">t</text>
<text transform="translate(541.40 53.80) scale(1.121 1)" font-size="20.40">h</text>
<text transform="translate(560.50 53.80) scale(1.125 1)" font-size="20.40">1</text>
<text transform="translate(573.27 53.80) scale(1.125 1)" font-size="20.40">0</text>
<text transform="translate(586.03 53.80) scale(1.125 1)" font-size="20.40">0</text>
<text transform="translate(598.80 53.80) scale(1.126 1)" font-size="20.40">.</text>
<text transform="translate(605.18 53.80) scale(1.125 1)" font-size="20.40">0</text>
<text transform="translate(617.95 53.80) scale(1.025 1)" font-size="20.40">s</text>
<text transform="translate(634.79 53.80) scale(1.123 1)" font-size="20.40">b</text>
<text transform="translate(647.55 53.80) scale(1.220 1)" font-size="20.40">i</text>
<text transform="translate(653.10 53.80) scale(1.121 1)" font-size="20.40">n</text>
<text transform="translate(665.83 53.80) scale(1.025 1)" font-size="20.40">s</text>
<text transform="translate(676.28 53.80) scale(1.126 1)" font-size="20.40">.</text>
<text transform="translate(95.00 558.20) scale(1.122 1)" font-size="17.00">0</text>
<text transform="translate(167.66 558.20) scale(1.122 1)" font-size="17.00">1</text>
<text transform="translate(178.27 558.20) scale(1.122 1)" font-size="17.00">0</text>
<text transform="translate(188.87 558.20) scale(1.122 1)" font-size="17.00">0</text>
<text transform="translate(199.48 558.20) scale(1.122 1)" font-size="17.00">0</text>
<text transform="translate(255.33 558.20) scale(1.122 1)" font-size="17.00">2</text>
<text transform="translate(265.94 558.20) scale(1.122 1)" font-size="17.00">0</text>
<text transform="translate(276.54 558.20) scale(1.122 1)" font-size="17.00">0</text>
<text transform="translate(287.15 558.20) scale(1.122 1)" font-size="17.00">0</text>
<text transform="translate(344.81 558.20) scale(1.122 1)" font-size="17.00">3</text>
<text transform="translate(355.41 558.20) scale(1.122 1)" font-size="17.00">0</text>
<text transform="translate(366.01 558.20) scale(1.122 1)" font-size="17.00">0</text>
<text transform="translate(376.62 558.20) scale(1.122 1)" font-size="17.00">0</text>
<text transform="translate(433.38 558.20) scale(1.122 1)" font-size="17.00">4</text>
<text transform="translate(443.98 558.20) scale(1.122 1)" font-size="17.00">0</text>
<text transform="translate(454.59 558.20) scale(1.122 1)" font-size="17.00">0</text>
<text transform="translate(465.19 558.20) scale(1.122 1)" font-size="17.00">0</text>
<text transform="translate(521.05 558.20) scale(1.122 1)" font-size="17.00">5</text>
<text transform="translate(531.65 558.20) scale(1.122 1)" font-size="17.00">0</text>
<text transform="translate(542.26 558.20) scale(1.122 1)" font-size="17.00">0</text>
<text transform="translate(552.86 558.20) scale(1.122 1)" font-size="17.00">0</text>
<text transform="translate(609.22 558.20) scale(1.122 1)" font-size="17.00">6</text>
<text transform="translate(619.82 558.20) scale(1.122 1)" font-size="17.00">0</text>
<text transform="translate(630.43 558.20) scale(1.122 1)" font-size="17.00">0</text>
<text transform="translate(641.03 558.20) scale(1.122 1)" font-size="17.00">0</text>
<text transform="translate(699.09 558.20) scale(1.122 1)" font-size="17.00">7</text>
<text transform="translate(709.70 558.20) scale(1.122 1)" font-size="17.00">0</text>
<text transform="translate(720.30 558.20) scale(1.122 1)" font-size="17.00">0</text>
<text transform="translate(730.90 558.20) scale(1.122 1)" font-size="17.00">0</text>
<text transform="translate(83.80 544.00) scale(1.122 1)" font-size="17.00">0</text>
<text transform="translate(83.80 464.00) scale(1.122 1)" font-size="17.00">2</text>
<text transform="translate(83.80 384.00) scale(1.122 1)" font-size="17.00">4</text>
<text transform="translate(83.80 304.00) scale(1.122 1)" font-size="17.00">6</text>
<text transform="translate(83.80 224.00) scale(1.122 1)" font-size="17.00">8</text>
<text transform="translate(73.19 144.00) scale(1.122 1)" font-size="17.00">1</text>
<text transform="translate(83.80 144.00) scale(1.122 1)" font-size="17.00">0</text>
<text transform="translate(73.19 64.00) scale(1.122 1)" font-size="17.00">1</text>
<text transform="translate(83.80 64.00) scale(1.122 1)" font-size="17.00">2</text>
<text transform="translate(617.18 577.20) scale(1.220 1)" font-size="17.00">+</text>
<text transform="translate(630.22 577.20) scale(1.122 1)" font-size="17.00">2</text>
<text transform="translate(640.82 577.20) scale(1.122 1)" font-size="17.00">.</text>
<text transform="translate(646.12 577.20) scale(1.122 1)" font-size="17.00">5</text>
<text transform="translate(656.73 577.20) scale(1.122 1)" font-size="17.00">0</text>
<text transform="translate(667.33 577.20) scale(1.122 1)" font-size="17.00">0</text>
<text transform="translate(677.93 577.20) scale(1.122 1)" font-size="17.00">6</text>
<text transform="translate(688.54 577.20) scale(1.122 1)" font-size="17.00">6</text>
<text transform="translate(699.14 577.20) scale(1.085 1)" font-size="17.00">e</text>
<text transform="translate(709.40 577.20) scale(1.122 1)" font-size="17.00">8</text>
<text transform="translate(454.80 83.10) scale(1.143 1)" font-size="13.90">0</text>
<text transform="translate(454.80 104.00) scale(1.143 1)" font-size="13.90">1</text>
<text transform="translate(454.80 124.80) scale(1.143 1)" font-size="13.90">2</text>
<text transform="translate(454.80 145.50) scale(1.143 1)" font-size="13.90">3</text>
<text transform="translate(530.20 83.10) scale(1.143 1)" font-size="13.90">4</text>
<text transform="translate(530.20 104.00) scale(1.143 1)" font-size="13.90">5</text>
<text transform="translate(530.20 124.80) scale(1.143 1)" font-size="13.90">6</text>
<text transform="translate(530.20 145.50) scale(1.143 1)" font-size="13.90">7</text>
<text transform="translate(605.20 83.10) scale(1.143 1)" font-size="13.90">8</text>
<text transform="translate(605.20 104.00) scale(1.143 1)" font-size="13.90">9</text>
<text transform="translate(605.20 124.80) scale(1.143 1)" font-size="13.90">1</text>
<text transform="translate(614.04 124.80) scale(1.143 1)" font-size="13.90">0</text>
<text transform="translate(605.20 145.50) scale(1.143 1)" font-size="13.90">1</text>
<text transform="translate(614.04 145.50) scale(1.143 1)" font-size="13.90">1</text>
<text transform="translate(689.40 83.10) scale(1.143 1)" font-size="13.90">1</text>
<text transform="translate(698.24 83.10) scale(1.143 1)" font-size="13.90">2</text>
<text transform="translate(689.40 104.00) scale(1.143 1)" font-size="13.90">1</text>
<text transform="translate(698.24 104.00) scale(1.143 1)" font-size="13.90">3</text>
<text transform="translate(689.40 124.80) scale(1.143 1)" font-size="13.90">1</text>
<text transform="translate(698.24 124.80) scale(1.143 1)" font-size="13.90">4</text>
<text transform="translate(689.40 145.50) scale(1.143 1)" font-size="13.90">1</text>
<text transform="translate(698.24 145.50) scale(1.143 1)" font-size="13.90">5</text>
</g>
</svg>
</body></html>
